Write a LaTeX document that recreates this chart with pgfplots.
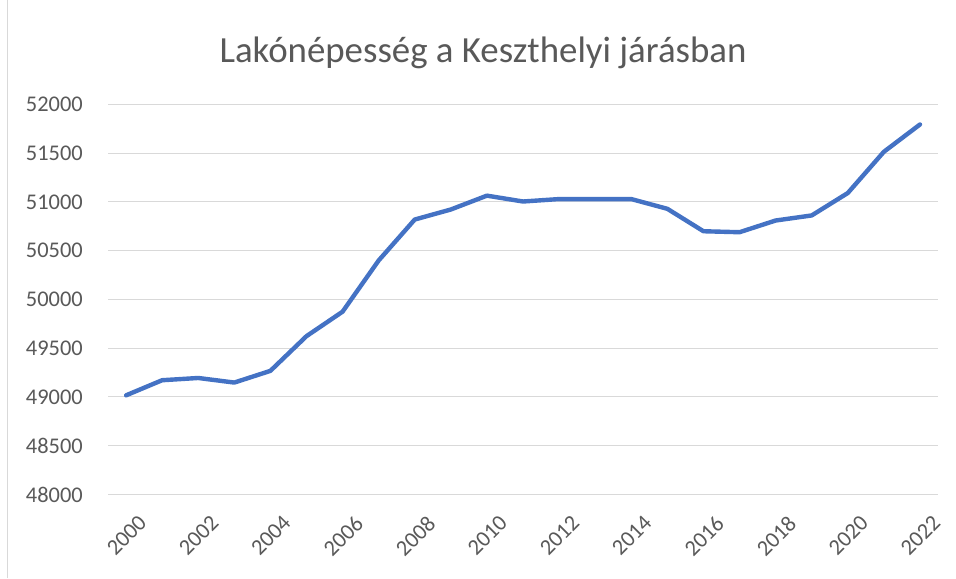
\documentclass[border=0pt]{standalone}
\usepackage{pgfplots}
\pgfplotsset{compat=1.18}
\usepackage{fontspec}
\setmainfont{Carlito}
\definecolor{linec}{HTML}{4472C4}
\definecolor{gridc}{HTML}{D9D9D9}
\definecolor{textc}{HTML}{595959}
\begin{document}
\begin{tikzpicture}[x=1bp,y=1bp]
\fill[white] (0,0) rectangle (956,578);
\draw[gridc, line width=1bp] (7,0) -- (7,578);
\node[text=textc, anchor=base, inner sep=0, font=\fontsize{37}{40}\selectfont] at (483,516) {Lakónépesség a Keszthelyi járásban};
\begin{axis}[
  at={(108bp,84bp)}, anchor=south west,
  scale only axis, width=830bp, height=390bp,
  xmin=1999.5, xmax=2022.5,
  ymin=48000, ymax=52000,
  xtick={2000,2002,...,2022},
  ytick={48000,48500,...,52000},
  scaled y ticks=false,
  axis line style={draw=none},
  major tick length=0pt,
  ymajorgrids, grid style={gridc, line width=1bp},
  /pgf/number format/assume math mode=true,
  /pgf/number format/1000 sep={},
  tick label style={text=textc, font=\fontsize{22.5}{26}\selectfont, inner sep=0pt},
  yticklabel style={anchor=east, xshift=-25bp},
  xticklabel style={rotate=45, anchor=north east, xshift=-6bp, yshift=-22bp},
]
\addplot[linec, line width=4.4bp, line join=round, line cap=round] coordinates {
(2000,49017) (2001,49172) (2002,49195) (2003,49148) (2004,49268)
(2005,49624) (2006,49875) (2007,50400) (2008,50820) (2009,50923)
(2010,51065) (2011,51005) (2012,51030) (2013,51030) (2014,51030)
(2015,50930) (2016,50700) (2017,50690) (2018,50810) (2019,50862)
(2020,51092) (2021,51515) (2022,51795)
};
\end{axis}
\end{tikzpicture}
\end{document}
